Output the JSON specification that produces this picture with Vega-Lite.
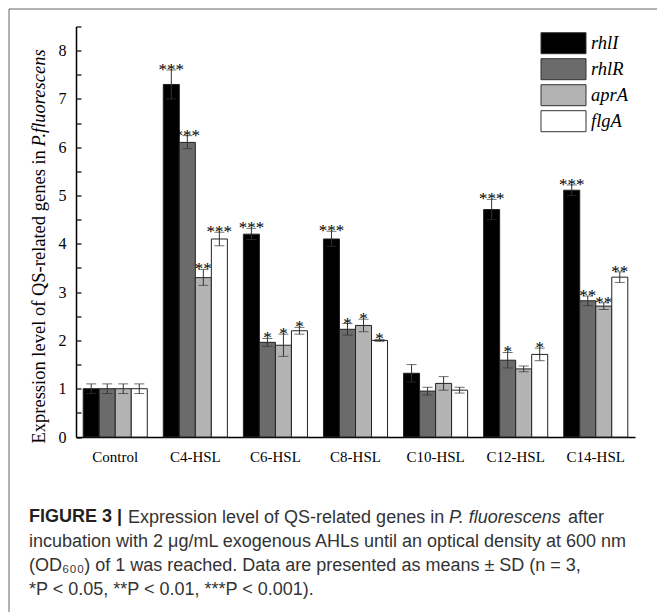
{
  "$schema": "https://vega.github.io/schema/vega-lite/v6.json",
  "width": 648.5,
  "height": 603.5,
  "autosize": {"type": "none"},
  "padding": {"left": 8.5, "top": 8.5, "right": 0, "bottom": 0},
  "background": "white",
  "config": {
    "view": {"stroke": "#666666", "strokeWidth": 1, "strokeDash": [648.5, 1252, 604], "fill": "white"},
    "axis": {"grid": false}
  },
  "title": {
    "text": "FIGURE 3 |",
    "subtitle": [
      "incubation with 2 μg/mL exogenous AHLs until an optical density at 600 nm",
      "(OD₆₀₀) of 1 was reached. Data are presented as means ± SD (n = 3,",
      "*P < 0.05, **P < 0.01, ***P < 0.001)."
    ],
    "orient": "bottom",
    "anchor": "start",
    "frame": "group",
    "offset": -104.5,
    "dx": 20.5,
    "font": "Liberation Sans",
    "fontSize": 18,
    "fontWeight": "bold",
    "color": "#231f20",
    "subtitleFont": "Liberation Sans",
    "subtitleFontSize": 18,
    "subtitleColor": "#333333",
    "subtitleLineHeight": 24,
    "subtitlePadding": 7
  },
  "data": {
    "values": [
      {"group": "Control", "gene": "rhlI", "value": 1.0, "lo": 0.9, "hi": 1.1, "sig": ""},
      {"group": "Control", "gene": "rhlR", "value": 1.0, "lo": 0.9, "hi": 1.1, "sig": ""},
      {"group": "Control", "gene": "aprA", "value": 1.0, "lo": 0.9, "hi": 1.1, "sig": ""},
      {"group": "Control", "gene": "flgA", "value": 1.0, "lo": 0.9, "hi": 1.1, "sig": ""},
      {"group": "C4-HSL", "gene": "rhlI", "value": 7.3, "lo": 7.0, "hi": 7.6, "sig": "***"},
      {"group": "C4-HSL", "gene": "rhlR", "value": 6.1, "lo": 5.97, "hi": 6.24, "sig": "***"},
      {"group": "C4-HSL", "gene": "aprA", "value": 3.3, "lo": 3.14, "hi": 3.47, "sig": "**"},
      {"group": "C4-HSL", "gene": "flgA", "value": 4.1, "lo": 3.96, "hi": 4.24, "sig": "***"},
      {"group": "C6-HSL", "gene": "rhlI", "value": 4.2, "lo": 4.09, "hi": 4.32, "sig": "***"},
      {"group": "C6-HSL", "gene": "rhlR", "value": 1.96, "lo": 1.88, "hi": 2.04, "sig": "*"},
      {"group": "C6-HSL", "gene": "aprA", "value": 1.9, "lo": 1.67, "hi": 2.13, "sig": "*"},
      {"group": "C6-HSL", "gene": "flgA", "value": 2.2, "lo": 2.13, "hi": 2.27, "sig": "*"},
      {"group": "C8-HSL", "gene": "rhlI", "value": 4.1, "lo": 3.95, "hi": 4.26, "sig": "***"},
      {"group": "C8-HSL", "gene": "rhlR", "value": 2.23, "lo": 2.11, "hi": 2.35, "sig": "*"},
      {"group": "C8-HSL", "gene": "aprA", "value": 2.31, "lo": 2.18, "hi": 2.44, "sig": "*"},
      {"group": "C8-HSL", "gene": "flgA", "value": 2.0, "lo": 1.98, "hi": 2.02, "sig": "*"},
      {"group": "C10-HSL", "gene": "rhlI", "value": 1.32, "lo": 1.14, "hi": 1.5, "sig": ""},
      {"group": "C10-HSL", "gene": "rhlR", "value": 0.95, "lo": 0.87, "hi": 1.03, "sig": ""},
      {"group": "C10-HSL", "gene": "aprA", "value": 1.11, "lo": 0.97, "hi": 1.25, "sig": ""},
      {"group": "C10-HSL", "gene": "flgA", "value": 0.97, "lo": 0.91, "hi": 1.03, "sig": ""},
      {"group": "C12-HSL", "gene": "rhlI", "value": 4.71, "lo": 4.5, "hi": 4.92, "sig": "***"},
      {"group": "C12-HSL", "gene": "rhlR", "value": 1.59, "lo": 1.43, "hi": 1.75, "sig": "*"},
      {"group": "C12-HSL", "gene": "aprA", "value": 1.41, "lo": 1.35, "hi": 1.47, "sig": ""},
      {"group": "C12-HSL", "gene": "flgA", "value": 1.71, "lo": 1.58, "hi": 1.84, "sig": "*"},
      {"group": "C14-HSL", "gene": "rhlI", "value": 5.11, "lo": 5.0, "hi": 5.22, "sig": "***"},
      {"group": "C14-HSL", "gene": "rhlR", "value": 2.82, "lo": 2.72, "hi": 2.92, "sig": "**"},
      {"group": "C14-HSL", "gene": "aprA", "value": 2.71, "lo": 2.64, "hi": 2.78, "sig": "**"},
      {"group": "C14-HSL", "gene": "flgA", "value": 3.31, "lo": 3.2, "hi": 3.42, "sig": "**"}
    ]
  },
  "layer": [
    {
      "encoding": {
        "x": {
          "field": "group", "type": "nominal",
          "sort": ["Control", "C4-HSL", "C6-HSL", "C8-HSL", "C10-HSL", "C12-HSL", "C14-HSL"],
          "scale": {"range": [67.5, 626.5], "paddingInner": 0.2, "paddingOuter": 0.09},
          "axis": {
            "orient": "bottom", "offset": -175,
            "domainColor": "#000000", "domainWidth": 1.5,
            "ticks": false, "labelAngle": 0,
            "labelFont": "Liberation Serif", "labelFontSize": 15, "labelColor": "#000000", "labelPadding": 12,
            "title": "Expression level of QS-related genes in",
            "titleFont": "Liberation Sans", "titleFontSize": 18, "titleFontWeight": "normal", "titleColor": "#333333",
            "titleX": 119, "titleY": 85, "titleAlign": "left", "titleBaseline": "alphabetic"
          }
        },
        "xOffset": {
          "field": "gene", "type": "nominal",
          "sort": ["rhlI", "rhlR", "aprA", "flgA"],
          "scale": {"paddingInner": 0, "paddingOuter": 0}
        },
        "y": {
          "field": "value", "type": "quantitative",
          "scale": {"domain": [0, 8.5], "range": [428.5, 18], "nice": false, "zero": true},
          "axis": {
            "orient": "left", "offset": -67.5,
            "values": [0, 0.5, 1, 1.5, 2, 2.5, 3, 3.5, 4, 4.5, 5, 5.5, 6, 6.5, 7, 7.5, 8, 8.5],
            "labelExpr": "datum.value % 1 == 0 ? format(datum.value, 'd') : ''",
            "labelOverlap": false,
            "tickSize": -5, "tickColor": "#000000", "tickWidth": 1.2,
            "domainColor": "#000000", "domainWidth": 1.5,
            "labelFont": "Liberation Serif", "labelFontSize": 16, "labelColor": "#000000", "labelPadding": 15,
            "title": "Expression level of QS-related genes in",
            "titleFont": "Liberation Serif", "titleFontSize": 18.5, "titleFontWeight": "normal", "titleColor": "#000000",
            "titleAngle": 270, "titleX": -32, "titleY": 434.5, "titleAlign": "left", "titleBaseline": "alphabetic"
          }
        }
      },
      "layer": [
        {
          "mark": {"type": "bar", "stroke": "#222222", "strokeWidth": 1},
          "encoding": {
            "color": {
              "field": "gene", "type": "nominal",
              "scale": {"domain": ["rhlI", "rhlR", "aprA", "flgA"], "range": ["#000000", "#6b6b6b", "#b3b3b3", "#ffffff"]},
              "legend": {
                "orient": "none", "legendX": 544, "legendY": 23.7, "title": null,
                "symbolType": "M-2.143,-1H2.143V1H-2.143Z", "symbolSize": 441,
                "symbolStrokeColor": "#333333", "symbolStrokeWidth": 1, "symbolOpacity": 1,
                "labelFont": "Liberation Serif", "labelFontStyle": "italic", "labelFontSize": 18.5, "labelColor": "#000000",
                "labelOffset": 16.5, "rowPadding": 0, "padding": 0
              }
            }
          }
        },
        {
          "mark": {"type": "rule", "color": "#333333", "strokeWidth": 1},
          "encoding": {"y": {"field": "lo", "type": "quantitative"}, "y2": {"field": "hi"}}
        },
        {
          "mark": {"type": "tick", "orient": "horizontal", "color": "#333333", "thickness": 1, "size": 10},
          "encoding": {"y": {"field": "hi", "type": "quantitative"}}
        },
        {
          "mark": {"type": "tick", "orient": "horizontal", "color": "#333333", "thickness": 1, "size": 10},
          "encoding": {"y": {"field": "lo", "type": "quantitative"}}
        },
        {
          "mark": {"type": "text", "font": "Liberation Serif", "fontSize": 17, "baseline": "alphabetic", "dy": 5, "color": "#000000"},
          "encoding": {"y": {"field": "hi", "type": "quantitative"}, "text": {"field": "sig"}}
        }
      ]
    },
    {
      "mark": {"type": "point", "opacity": 0},
      "encoding": {
        "x": {
          "field": "group", "type": "nominal",
          "scale": {"range": [67.5, 626.5]},
          "axis": {
            "orient": "bottom", "offset": -175, "domain": false, "ticks": false, "labels": false, "grid": false,
            "title": "P. fluorescens",
            "titleFont": "Liberation Sans", "titleFontSize": 18, "titleFontWeight": "normal", "titleFontStyle": "italic", "titleColor": "#333333",
            "titleX": 440, "titleY": 85, "titleAlign": "left", "titleBaseline": "alphabetic"
          }
        },
        "y": {
          "field": "value", "type": "quantitative",
          "scale": {"domain": [0, 8.5], "range": [428.5, 18], "nice": false},
          "axis": {
            "orient": "left", "offset": -67.5, "domain": false, "ticks": false, "labels": false, "grid": false,
            "title": "P.fluorescens",
            "titleFont": "Liberation Serif", "titleFontSize": 18.5, "titleFontWeight": "normal", "titleFontStyle": "italic", "titleColor": "#000000",
            "titleAngle": 270, "titleX": -32, "titleY": 137.5, "titleAlign": "left", "titleBaseline": "alphabetic"
          }
        }
      }
    },
    {
      "mark": {"type": "point", "opacity": 0},
      "encoding": {
        "x": {
          "field": "group", "type": "nominal",
          "scale": {"range": [67.5, 626.5]},
          "axis": {
            "orient": "bottom", "offset": -175, "domain": false, "ticks": false, "labels": false, "grid": false,
            "title": "after",
            "titleFont": "Liberation Sans", "titleFontSize": 18, "titleFontWeight": "normal", "titleColor": "#333333",
            "titleX": 559, "titleY": 85, "titleAlign": "left", "titleBaseline": "alphabetic"
          }
        },
        "y": {
          "field": "value", "type": "quantitative",
          "scale": {"domain": [0, 8.5], "range": [428.5, 18], "nice": false},
          "axis": null
        }
      }
    }
  ],
  "resolve": {"scale": {"x": "independent", "y": "independent"}}
}
